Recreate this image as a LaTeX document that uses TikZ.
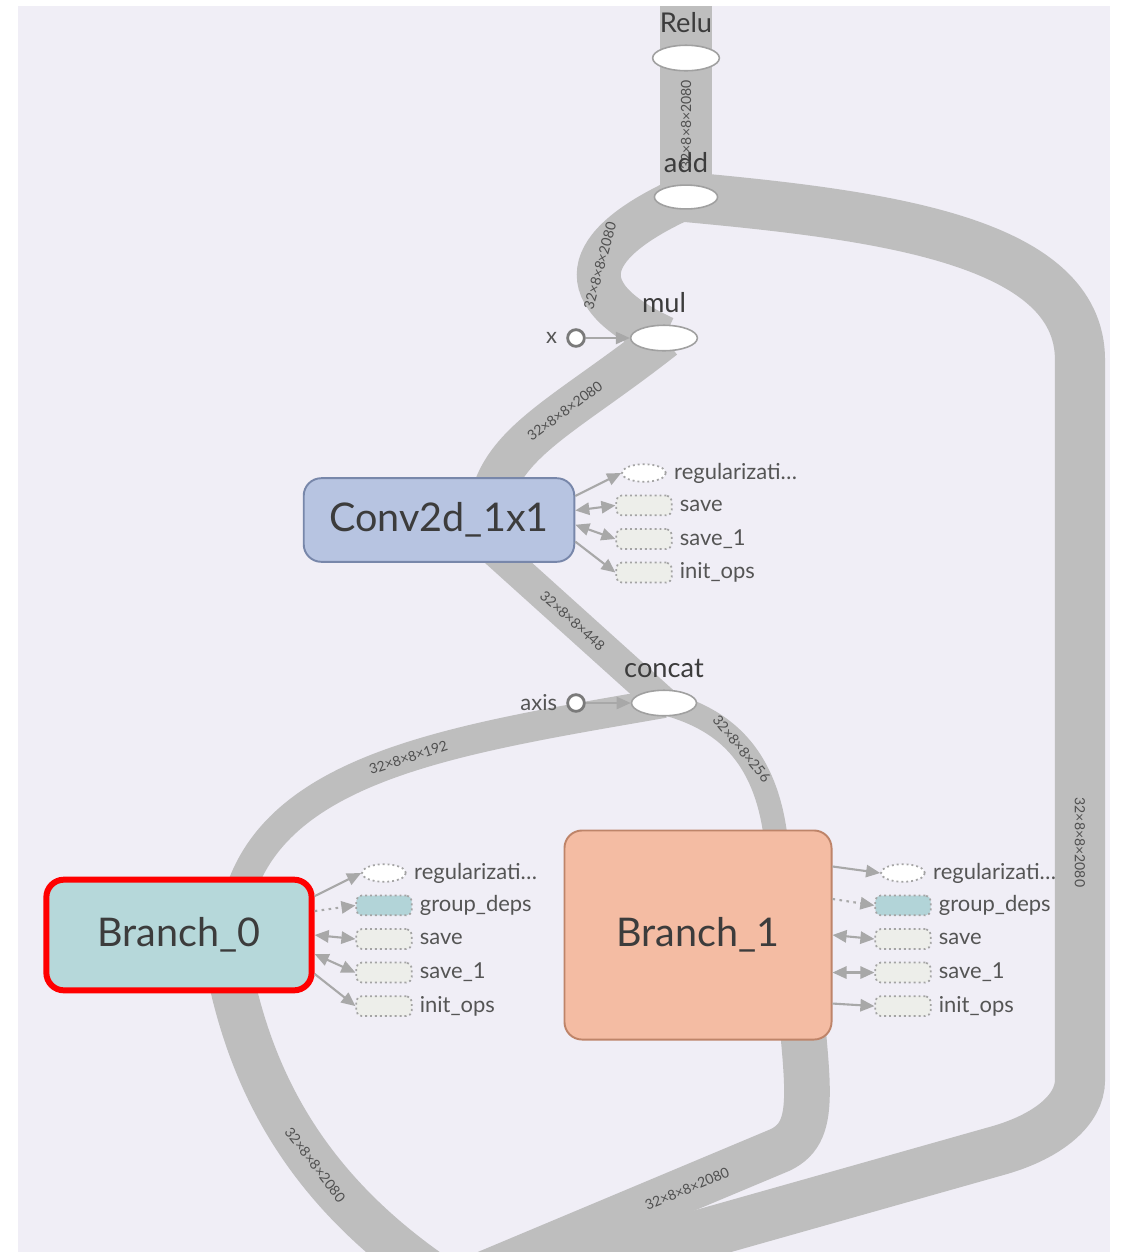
\documentclass[tikz,border=0pt]{standalone}
\usepackage{fontspec}
\setmainfont{Lato}
\usetikzlibrary{positioning,shapes.geometric,arrows.meta}

\pgfdeclarelayer{panel}
\pgfdeclarelayer{edges}
\pgfsetlayers{panel,edges,main}

\definecolor{panelbg}{HTML}{F0EEF6}
\definecolor{band}{HTML}{BEBEBE}
\definecolor{opline}{HTML}{A0A0A0}
\definecolor{constline}{HTML}{7A7A7A}
\definecolor{depline}{HTML}{A8A8A8}
\definecolor{auxline}{HTML}{A4A4A4}
\definecolor{auxfill}{HTML}{EDEEEA}
\definecolor{grpfill}{HTML}{B2D4D8}
\definecolor{convfill}{HTML}{B7C4E1}
\definecolor{convline}{HTML}{7887AA}
\definecolor{b0fill}{HTML}{B6D8DA}
\definecolor{selred}{HTML}{FF0000}
\definecolor{b1fill}{HTML}{F4BCA3}
\definecolor{b1line}{HTML}{BE8469}
\definecolor{txtdark}{HTML}{3C3C3C}
\definecolor{txtaux}{HTML}{555555}
\definecolor{txtedge}{HTML}{505050}

\begin{document}
\begin{tikzpicture}[%
    x=0.02cm, y=-0.02cm,
    >={Triangle[length=8pt, width=7pt]},
    node distance=6.8pt,
    op/.style={%
      ellipse, draw=opline, fill=white, line width=0.9pt,
      inner sep=0pt, minimum width=38pt, minimum height=14.5pt
    },
    optxt/.style={text=txtdark, inner sep=1pt, font=\fontsize{15.5}{18}\selectfont},
    group/.style={%
      rectangle, rounded corners=10pt, line width=1.1pt,
      inner sep=0pt, text=txtdark, font=\fontsize{22.5}{26}\selectfont
    },
    const/.style={circle, draw=constline, fill=white, line width=1.6pt, inner sep=0pt, minimum size=9.5pt},
    consttxt/.style={text=txtaux, inner sep=0pt, font=\fontsize{12.5}{15}\selectfont},
    aux/.style={%
      rectangle, rounded corners=3pt, draw=auxline, dash pattern=on 1.1pt off 1.7pt,
      line width=1pt, fill=auxfill, inner sep=0pt, minimum width=31.5pt, minimum height=11.3pt
    },
    auxreg/.style={aux, ellipse, fill=white, minimum width=25pt, minimum height=10pt},
    auxgrp/.style={aux, fill=grpfill},
    auxtxt/.style={text=txtaux, inner sep=0pt, font=\fontsize{12.5}{15}\selectfont},
    dep/.style={draw=depline, line width=1.2pt},
    flow/.style={draw=band},
    elabel/.style={sloped, text=txtedge, inner sep=0pt, font=\fontsize{8}{9}\selectfont}
  ]
    \useasboundingbox (0,0) rectangle (1122,1252);
    \begin{pgfonlayer}{panel}
      \fill[white] (0,0) rectangle (1122,1252);
      \fill[panelbg] (18,6) rectangle (1110,1252);
    \end{pgfonlayer}

    % ops
    \node[op] (relu) at (686,58) {};
    \node[optxt, above=5.5pt of relu] (relutxt) {Relu};
    \node[op, minimum width=36pt, minimum height=13.6pt] (add) at (686,197) {};
    \node[optxt, above=5.5pt of add] (addtxt) {add};
    \node[op] (mul) at (664,338) {};
    \node[optxt, above=5.5pt of mul] (multxt) {mul};
    \node[const] (xc) at (576,338) {};
    \node[consttxt, left=5pt of xc] (xtxt) {x};

    \node[group, fill=convfill, draw=convline, minimum width=154pt, minimum height=47.6pt] (conv) at (439,520) {Conv2d\_1x1};

    \node[op, minimum width=37pt] (concat) at (664,703) {};
    \node[optxt, above=5.5pt of concat] (concattxt) {concat};
    \node[const] (axc) at (576,703) {};
    \node[consttxt, left=5pt of axc] (axtxt) {axis};

    \node[group, fill=b0fill, draw=selred, line width=3.4pt, minimum width=151pt, minimum height=63pt] (b0) at (179,935) {Branch\_0};
    \node[group, fill=b1fill, draw=b1line, minimum width=152pt, minimum height=119pt] (b1) at (698,935) {Branch\_1};

    % aux nodes of Conv2d_1x1
    \node[auxreg] (regC) at (644,473) {};
    \node[aux, below=of regC] (saveC) {};
    \node[aux, below=of saveC] (saveaC) {};
    \node[aux, below=of saveaC] (initC) {};
    \node[auxtxt, right=4pt of regC] (lregC) {regularizati…};
    \node[auxtxt, right=4pt of saveC] (lsaveC) {save};
    \node[auxtxt, right=4pt of saveaC] (lsaveaC) {save\_1};
    \node[auxtxt, right=4pt of initC] (linitC) {init\_ops};

    % aux nodes of Branch_0
    \node[auxreg] (regA) at (384,873) {};
    \node[auxgrp, below=of regA] (grpA) {};
    \node[aux, below=of grpA] (saveA) {};
    \node[aux, below=of saveA] (saveaA) {};
    \node[aux, below=of saveaA] (initA) {};
    \node[auxtxt, right=4pt of regA] (lregA) {regularizati…};
    \node[auxtxt, right=4pt of grpA] (lgrpA) {group\_deps};
    \node[auxtxt, right=4pt of saveA] (lsaveA) {save};
    \node[auxtxt, right=4pt of saveaA] (lsaveaA) {save\_1};
    \node[auxtxt, right=4pt of initA] (linitA) {init\_ops};

    % aux nodes of Branch_1
    \node[auxreg] (regB) at (903,873) {};
    \node[auxgrp, below=of regB] (grpB) {};
    \node[aux, below=of grpB] (saveB) {};
    \node[aux, below=of saveB] (saveaB) {};
    \node[aux, below=of saveaB] (initB) {};
    \node[auxtxt, right=4pt of regB] (lregB) {regularizati…};
    \node[auxtxt, right=4pt of grpB] (lgrpB) {group\_deps};
    \node[auxtxt, right=4pt of saveB] (lsaveB) {save};
    \node[auxtxt, right=4pt of saveaB] (lsaveaB) {save\_1};
    \node[auxtxt, right=4pt of initB] (linitB) {init\_ops};

    \coordinate (relutop) at (686,-10);
    \coordinate (bot0) at (440,1280);
    \coordinate (bot1) at (470,1280);
    \coordinate (bot2) at (540,1280);

    % data flow
    \begin{pgfonlayer}{edges}
      \begin{scope}
        \clip (18,6) rectangle (1110,1252);
        \draw[flow, line width=29.5pt] (relu.center) -- (relutop);
        \draw[flow, line width=29.5pt] (add.center) -- node[elabel, pos=0.52] {32×8×8×2080} (relu.center);
        \draw[flow, line width=25pt] (add.center) .. controls (590,240) and (560,290) .. node[elabel, pos=0.5] {32×8×8×2080} (mul.center);
        \draw[flow, line width=24pt] (mul.center) .. controls (560,420) and (492,445) .. node[elabel, pos=0.37] {32×8×8×2080} ([xshift=28pt]conv.center);
        \draw[flow, line width=18pt] ([xshift=12.5pt]conv.center) -- node[elabel, pos=0.55] {32×8×8×448} (concat.center);
        \draw[flow, line width=17pt] (concat.center) .. controls (440,742) and (245,770) .. node[elabel, pos=0.42] {32×8×8×192} ([xshift=30pt]b0.center);
        \draw[flow, line width=13.5pt] (concat.center) .. controls (735,722) and (792,770) .. node[elabel, pos=0.42] {32×8×8×256} ([xshift=44pt]b1.center);
        \draw[flow, line width=26pt] ([xshift=25pt]b0.center) .. controls (242,1060) and (292,1180) .. node[elabel, pos=0.64] {32×8×8×2080} (bot0);
        \draw[flow, line width=26pt] ([xshift=55pt]b1.center) .. controls (805,1080) and (822,1130) .. (780,1150) -- node[elabel, pos=0.3] {32×8×8×2080} (bot1);
        \draw[flow, line width=28.5pt] (add.center) .. controls (880,215) and (1080,240) .. (1080,360)
          -- node[elabel, pos=0.67] {32×8×8×2080} (1080,1080)
          .. controls (1080,1110) and (1048,1136) .. (1000,1150) -- (bot2);
      \end{scope}
    \end{pgfonlayer}

    % constants
    \draw[dep, line width=0.9pt, ->] (xc) -- (mul);
    \draw[dep, line width=0.9pt, ->] (axc) -- (concat);

    % Conv2d_1x1 deps
    \draw[dep, ->] (conv.10) -- (regC.west);
    \draw[dep, <->] (conv.4) -- (saveC.west);
    \draw[dep, <->] (conv.-2) -- (saveaC.west);
    \draw[dep, ->] (conv.-9) -- (initC.west);

    % Branch_0 deps
    \draw[dep, ->] (b0.16) -- (regA.west);
    \draw[dep, dash pattern=on 1.5pt off 2.5pt, ->] (b0.10) -- (grpA.west);
    \draw[dep, <->] (b0.east) -- (saveA.west);
    \draw[dep, <->] (b0.-8) -- (saveaA.west);
    \draw[dep, ->] (b0.-16) -- (initA.west);

    % Branch_1 deps
    \draw[dep, ->] (b1.27) -- (regB.west);
    \draw[dep, dash pattern=on 1.5pt off 2.5pt, ->] (b1.15) -- (grpB.west);
    \draw[dep, <->] (b1.east) -- (saveB.west);
    \draw[dep, <->] (b1.east |- saveaB.west) -- (saveaB.west);
    \draw[dep, ->] (b1.-27) -- (initB.west);
  \end{tikzpicture}
\end{document}
